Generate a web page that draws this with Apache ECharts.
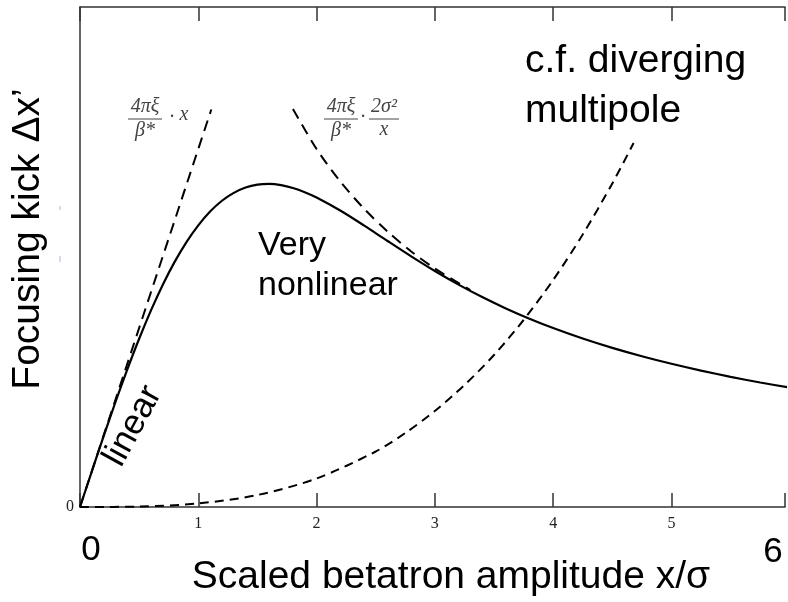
<!DOCTYPE html>
<html>
<head>
<meta charset="utf-8">
<script src="https://cdn.jsdelivr.net/npm/echarts/dist/echarts.min.js"></script>
<style>html,body{margin:0;padding:0;background:#fff;}#c{width:788px;height:602px;}</style>
</head>
<body>
<div id="c"></div>
<script>
// Scaled betatron amplitude (x/σ) and focusing kick (arbitrary units, axis top = 1)
var kickX = [0,0.1,0.2,0.3,0.4,0.5,0.6,0.7,0.8,0.9,1.0,1.1,1.2,1.3,1.4,1.5,1.6,1.7,1.8,1.9,2.0,2.2,2.4,2.6,2.8,3.0,3.2,3.4,3.6,3.8,4.0,4.25,4.5,4.75,5.0,5.25,5.5,5.75,6.0];
var kickY = [0,0.0714,0.1418,0.2100,0.2752,0.3365,0.3932,0.4446,0.4902,0.5299,0.5634,0.5909,0.6125,0.6283,0.6390,0.6447,0.6462,0.6438,0.6381,0.6297,0.6191,0.5930,0.5632,0.5320,0.5013,0.4720,0.4448,0.4199,0.3972,0.3766,0.3579,0.3369,0.3182,0.3015,0.2864,0.2728,0.2604,0.2490,0.2387];
var linearX = [0,1.11];
var linearY = [0,0.795];
var inverseX = [1.8,2.0,2.2,2.4,2.6,2.8,3.0,3.3];
var inverseY = [0.796,0.716,0.651,0.597,0.551,0.511,0.477,0.434];
var multipoleX = [0,0.5,1.0,1.5,2.0,2.5,2.75,3.0,3.25,3.5,3.75,4.0,4.25,4.5,4.68];
var multipoleY = [0,0.0009,0.0071,0.024,0.057,0.111,0.148,0.192,0.244,0.304,0.374,0.454,0.545,0.647,0.728];
var xTickLabels = ['1','2','3','4','5'];
var yTickLabels = ['0'];

function pairs(xs, ys){ return xs.map(function(x,i){ return [x, ys[i]]; }); }

var chart = echarts.init(document.getElementById('c'), null, {renderer:'canvas'});
var axisCol = '#333';
var serif = 'Liberation Serif';
var sans = 'Liberation Sans';
var fc = '#444';

function t(x, y, text, size, opts){
  opts = opts || {};
  return {
    type:'text', x:x, y:y, rotation: opts.rotation || 0, z: 100,
    style:{ text:text, fontSize:size, fontFamily: opts.family || sans, fill: opts.color || '#000',
            fontStyle: opts.italic ? 'italic' : 'normal',
            textAlign: opts.align || 'center', textVerticalAlign: 'middle' }
  };
}
function bar(x1, x2, y){
  return { type:'line', z:100, shape:{x1:x1,y1:y,x2:x2,y2:y}, style:{stroke:fc, lineWidth:1} };
}

var option = {
  animation:false,
  backgroundColor:'#fff',
  grid:{ left:80, right:0, top:7, bottom:95, containLabel:false },
  xAxis:[{
    type:'value', min:0, max:5.96, interval:1, position:'bottom',
    axisLine:{ show:true, onZero:false, lineStyle:{ color:axisCol, width:1.5 } },
    axisTick:{ show:true, inside:true, length:14, lineStyle:{ color:axisCol, width:1.5 } },
    axisLabel:{ show:true, margin:9, fontFamily:serif, fontSize:16, color:'#222',
      formatter:function(v){ var i = xTickLabels.indexOf(String(v)); return i >= 0 ? xTickLabels[i] : ''; } },
    splitLine:{ show:false }
  },{
    type:'value', min:0, max:5.96, interval:1, position:'top',
    axisLine:{ show:true, onZero:false, lineStyle:{ color:axisCol, width:1.5 } },
    axisTick:{ show:true, inside:true, length:14, lineStyle:{ color:axisCol, width:1.5 } },
    axisLabel:{ show:false },
    splitLine:{ show:false }
  }],
  yAxis:{
    type:'value', min:0, max:1, interval:1,
    axisLine:{ show:true, onZero:false, lineStyle:{ color:axisCol, width:1.5 } },
    axisTick:{ show:false },
    axisLabel:{ show:true, margin:6, fontFamily:serif, fontSize:16, color:'#222',
      formatter:function(v){ return v === 0 ? yTickLabels[0] : ''; } },
    splitLine:{ show:false }
  },
  series:[
    { type:'line', data:pairs(kickX,kickY), smooth:0.3, showSymbol:false, clip:true,
      lineStyle:{ color:'#000', width:2.2 } },
    { type:'line', data:pairs(linearX,linearY), showSymbol:false,
      lineStyle:{ color:'#000', width:2, type:[11,7] } },
    { type:'line', data:pairs(inverseX,inverseY), smooth:0.3, showSymbol:false,
      lineStyle:{ color:'#000', width:2, type:[11,7] } },
    { type:'line', data:pairs(multipoleX,multipoleY), smooth:0.3, showSymbol:false,
      lineStyle:{ color:'#000', width:2, type:[9,6] } }
  ],
  graphic:[
    t(28, 239, 'Focusing kick Δx’', 39, { rotation: Math.PI/2 }),
    t(451, 577, 'Scaled betatron amplitude x/σ', 39),
    t(91, 550, '0', 35),
    t(773, 552, '6', 35),
    t(258, 246, 'Very', 34, { align:'left' }),
    t(258, 286, 'nonlinear', 34, { align:'left' }),
    t(525, 61, 'c.f. diverging', 39, { align:'left' }),
    t(525, 111, 'multipole', 39, { align:'left' }),
    t(133, 426, 'linear', 35, { rotation: 1.073 }),
    // formula 1: 4πξ/β* · x
    t(145, 107, '4πξ', 20, { family:serif, italic:true, color:fc }),
    bar(128, 162, 119),
    t(145, 131, 'β*', 20, { family:serif, italic:true, color:fc }),
    t(172, 118, '·', 20, { family:serif, color:fc }),
    t(184, 115, 'x', 20, { family:serif, italic:true, color:fc }),
    // formula 2: 4πξ/β* · 2σ²/x
    t(341, 107, '4πξ', 20, { family:serif, italic:true, color:fc }),
    bar(324, 358, 119),
    t(341, 131, 'β*', 20, { family:serif, italic:true, color:fc }),
    t(363, 118, '·', 20, { family:serif, color:fc }),
    t(384, 107, '2σ²', 20, { family:serif, italic:true, color:fc }),
    bar(369, 399, 119),
    t(384, 130, 'x', 20, { family:serif, italic:true, color:fc }),
    // faint marks near y axis
    { type:'line', shape:{x1:60,y1:206,x2:60,y2:210}, style:{ stroke:'#aab8d0', lineWidth:1 } },
    { type:'line', shape:{x1:60,y1:256,x2:60,y2:262}, style:{ stroke:'#aab8d0', lineWidth:1 } }
  ]
};
chart.setOption(option);
</script>
</body>
</html>
